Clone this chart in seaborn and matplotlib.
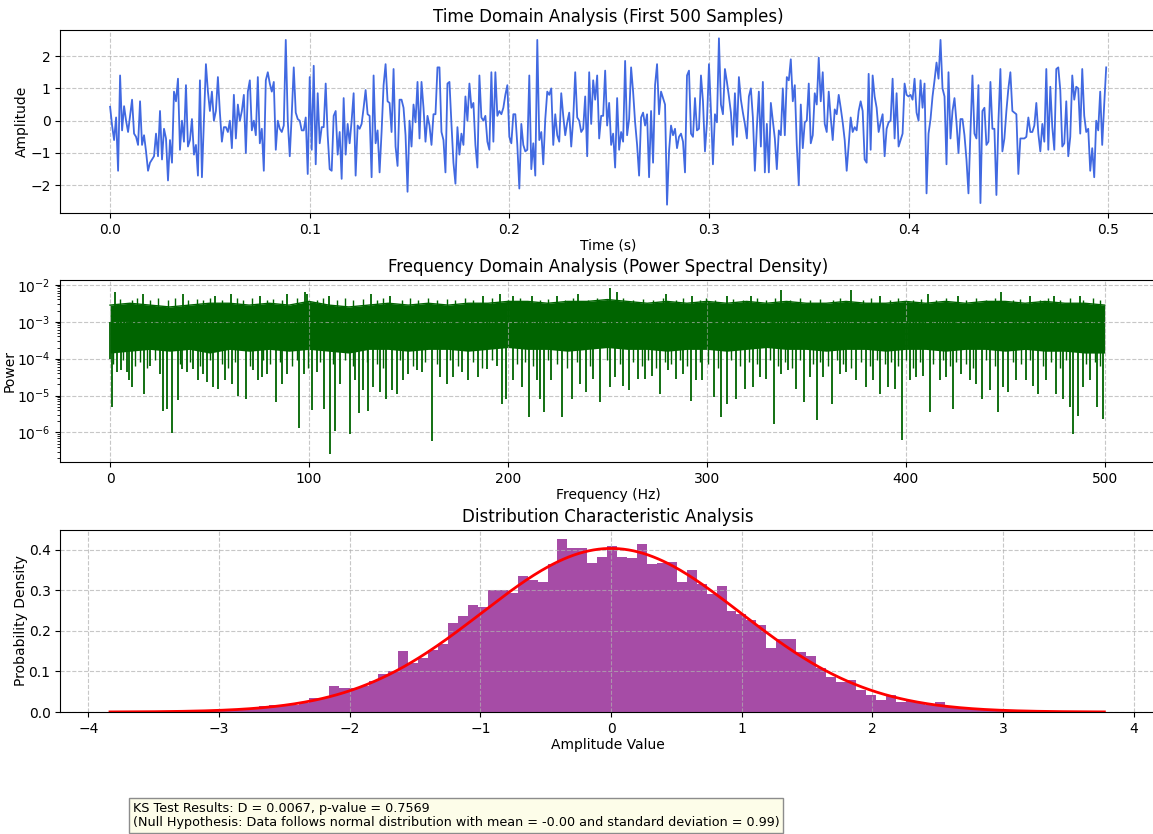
import numpy as np
import pandas as pd
import matplotlib
matplotlib.use("Agg")
import matplotlib.pyplot as plt
import seaborn as sns

# ---------------- data ----------------
fs = 1000  # sampling rate (Hz)

signal = [
    0.43, -0.15, -0.6, 0.1, -1.55, 1.4, -0.3, 0.45, 0.0, -0.35,
    0.15, 0.65, -0.4, -0.5, -0.75, 0.6, -0.75, -0.45, -0.95, -1.55,
    -1.3, -1.2, -1.1, -0.4, -1.1, 0.3, -1.2, -0.25, -0.55, -1.85,
    -0.6, -1.3, 0.9, 0.6, 1.3, -0.9, 0.0, -0.65, 1.1, -0.8,
    -0.6, 0.05, -1.05, -0.75, -1.7, 1.25, -1.75, 0.0, 1.75, 0.9,
    0.3, 0.9, 0.0, 0.3, 1.35, 0.25, -0.65, -0.2, -0.2, -0.35,
    0.0, -0.85, 0.8, -0.55, 0.5, 0.0, 0.3, 0.8, -1.0, 0.9,
    1.25, -0.3, 0.0, -0.45, 1.35, -0.7, -0.25, -1.55, 1.25, 1.5,
    1.15, 0.9, 1.2, -0.9, 0.0, -0.25, -0.35, -0.15, 2.5, 0.0,
    -1.1, 0.2, 1.65, 0.25, 0.05, 0.0, -0.3, -0.3, 0.1, -1.65, 1.35,
    -0.9, 1.7, -1.35, 0.85, -0.7, -0.2, -0.2, 1.15, -0.45, -1.5,
    -1.55, 0.15, 0.3, -1.05, -0.35, -1.8, 0.7, -1.05, -0.1, -0.7,
    0.0, 0.85, -1.7, -0.15, -0.25, -0.1, 0.4, 0.95, 0.2, 0.15,
    -1.75, 1.4, -0.7, -0.3, -1.6, -0.35, 1.1, 1.75, 0.6, 0.55,
    -0.35, 1.6, -0.8, -1.4, 0.65, 0.65, 0.4, -0.45, -2.2, 0.0,
    -0.8, 0.5, -0.05, 1.2, -0.55, 1.2, 0.4, -0.65, 0.15, -0.15,
    -0.75, 0.2, 0.2, 1.65, 1.65, -0.35, -0.6, -1.6, 1.15, 1.2,
    -0.1, -1.3, -1.95, -0.2, -1.05, -0.4, -0.75, 0.75, 0.0, 1.15,
    0.4, 0.55, -0.75, -1.45, 1.4, 0.1, 0.0, 0.15, -0.65, -0.9,
    1.5, -0.65, 1.5, 0.15, 0.3, 0.2, 0.4, 0.8, 1.1, -0.5,
    -0.7, 0.2, 0.2, -0.75, -2.1, -0.1, -0.75, -0.95, -0.9, 1.4,
    -1.5, -0.7, -1.7, 2.5, -0.6, -0.35, -1.35, 0.05, 0.9, 0.8,
    1.0, -0.75, 0.2, -0.45, -0.65, 0.85, 0.15, -0.45, -0.05, 0.25,
    -0.8, 0.05, 1.5, 0.1, 0.0, -0.35, -0.25, 0.75, -1.1, 1.5,
    -0.1, 1.25, 0.65, 1.4, -0.55, 0.15, 0.15, 1.55, -0.15, 0.55,
    -0.75, -0.4, -1.45, 0.7, -0.9, -0.35, -0.65, 1.85, -0.45, 0.05,
    1.65, 0.9, -0.05, -0.75, -1.7, 0.1, 0.25, -0.15, 0.2, -1.75,
    0.3, -1.3, 1.1, 1.75, 0.2, 0.9, 0.7, 0.5, -2.6, -0.95,
    -0.15, -0.45, -0.25, -0.85, -0.5, -0.4, -0.65, -1.6, 1.4, 1.55,
    -0.4, -0.5, 0.7, -0.3, -0.25, 1.4, 0.6, -0.95, -0.05, 1.75,
    0.3, -1.35, 0.2, -0.05, 2.55, 0.5, 0.2, 1.6, 1.2, 0.75, 0.25,
    -0.75, 0.85, -0.5, 1.35, 0.65, 0.25, -0.1, -0.55, 0.75, 1.0,
    0.1, -1.55, -0.2, 0.9, -0.8, 1.2, -1.6, -0.1, -1.6, 0.55,
    0.0, -0.55, -1.5, -0.3, -0.45, 1.0, -0.45, 1.35, 1.25, 1.9,
    0.6, 1.1, -0.75, -2.0, 0.5, -0.85, -0.05, 0.0, 1.15, -0.7,
    -0.45, 0.85, 0.5, 1.95, 0.6, 1.5, -0.1, -0.35, 0.9, 0.1,
    -0.6, 0.35, 0.2, 0.8, 0.4, -0.05, -0.6, -1.55, -0.75, 0.1,
    -0.35, -0.2, -0.3, 0.3, 0.6, 0.3, -1.2, -1.3, 1.45, -0.9,
    1.4, 0.75, 0.4, -0.35, -0.05, 0.2, -1.1, -0.25, -0.05, 0.0,
    1.3, -0.55, 0.85, -0.8, -0.6, -0.4, 1.15, 0.8, 0.75,
    0.8, 0.65, 1.3, 0.25, 0.0, 1.25, 0.4, 1.15, -2.25, -0.4,
    0.05, 0.75, 1.25, 1.8, 1.3, 2.5, 1.0, 0.75, -1.35, 1.5,
    -0.55, 0.3, 0.7, -0.05, -1.0, 0.05, 0.05, -0.45, -1.2, -2.25,
    -0.35, 1.4, -0.4, -0.55, 1.1, -2.55, 0.3, 0.4, -0.75, -0.65,
    1.2, -0.25, -0.25, -2.3, -0.05, 1.6, -0.95, -0.55, 0.3, 1.0,
    1.5, 0.3, 0.25, 0.2, -1.65, -0.55, -0.55, -0.55, -0.5, 0.1,
    -0.35, -0.35, -0.15, 0.55, -0.4, -0.95, -0.1, -0.65, 1.6, -0.9,
    1.05, -0.2, -0.9, 1.6, 1.65, 0.95, -0.8, -0.7, 0.6, -1.1,
    -0.5, 1.4, 0.65, 1.05, 1.0, -0.4, 1.6, 0.15, -0.35, -0.25,
    -1.55, -0.85, -1.75, 0.0, -0.3, 0.9, -0.75, 0.5, 1.65,
]

# Power spectral density, read as a band (log10 power) every 10 Hz
psd_env_freq = list(range(0, 501, 10))
psd_upper_log = [
    -2.55, -2.5, -2.55, -2.6, -2.55, -2.5, -2.5, -2.55, -2.5, -2.55,
    -2.45, -2.55, -2.6, -2.55, -2.5, -2.55, -2.5, -2.55, -2.5, -2.5,
    -2.45, -2.45, -2.5, -2.45, -2.45, -2.4, -2.45, -2.5, -2.45, -2.5,
    -2.45, -2.5, -2.45, -2.5, -2.45, -2.5, -2.5, -2.45, -2.5, -2.5,
    -2.45, -2.5, -2.45, -2.5, -2.45, -2.45, -2.5, -2.45, -2.5, -2.5,
    -2.55,
]
psd_lower_log = [
    -3.85, -3.8, -3.75, -3.8, -3.75, -3.85, -3.75, -3.8, -3.75, -3.8,
    -3.75, -3.8, -3.85, -3.75, -3.75, -3.8, -3.75, -3.75, -3.8, -3.75,
    -3.7, -3.75, -3.75, -3.8, -3.75, -3.7, -3.75, -3.75, -3.8, -3.75,
    -3.75, -3.8, -3.75, -3.7, -3.75, -3.75, -3.8, -3.75, -3.75, -3.8,
    -3.75, -3.75, -3.8, -3.75, -3.75, -3.8, -3.75, -3.8, -3.8, -3.85,
    -3.85,
]
# deep downward spikes of the spectrum (Hz, log10 power)
dip_freq = [
    0.0, 1.2, 3.4, 5.4, 8.4, 9.4, 11.2, 16.9, 20.1, 25.1, 26.8, 28.5, 31.0, 34.0,
    36.0, 38.5, 41.9, 44.4, 46.9, 48.9, 51.9, 54.4, 57.8, 61.1, 64.5, 68.3,
    72.0, 74.2, 76.2, 78.7, 83.2, 86.3, 88.8, 95.0, 97.5, 101.7, 103.9, 107.5,
    110.6, 113.1, 115.6, 120.6, 123.1, 125.1, 127.3, 129.8, 132.3, 135.7,
    138.7, 141.5, 144.1, 147.4, 149.9, 154.1, 156.6, 162.1, 165.8, 169.2,
    172.5, 176.7, 180.1, 184.8, 189.3, 194.3, 196.8, 199.3, 202.7, 206.9,
    210.6, 214.4, 216.1, 218.3, 221.9, 227.0, 232.0, 236.2, 239.5, 242.9,
    246.2, 251.3, 253.8, 258.0, 261.0, 265.5, 268.8, 272.2, 276.7, 280.6,
    284.4, 288.1, 292.0, 294.8, 297.8, 303.7, 306.9, 310.2, 314.9, 319.1,
    323.3, 326.6, 329.6, 333.7, 337.5, 340.9, 344.7, 348.7, 351.8, 355.4,
    358.5, 362.8, 366.8, 370.2, 375.2, 379.9, 383.6, 387.3, 391.1, 394.5,
    398.2, 402.0, 405.4, 408.7, 412.1, 417.1, 420.4, 423.8, 428.0, 432.2,
    435.5, 438.5, 442.2, 446.4, 448.9, 451.4, 455.6, 460.6, 464.0, 466.5,
    470.7, 475.7, 479.1, 482.4, 484.1, 486.6, 489.1, 492.5, 496.2, 499.2,
]
dip_log = [
    -4.0, -5.3, -4.37, -4.32, -4.37, -4.59, -4.77, -4.95, -4.19, -4.41, -5.42, -5.36, -6.01, -5.12,
    -4.28, -4.37, -4.28, -4.59, -4.41, -4.64, -4.77, -4.82, -4.59, -4.68, -5.0, -5.09,
    -4.32, -4.59, -4.5, -4.41, -5.18, -4.68, -4.41, -5.87, -4.41, -5.39, -4.37, -5.36,
    -6.58, -5.95, -4.68, -6.05, -4.59, -5.48, -4.86, -5.41, -4.77, -4.91,
    -5.09, -4.86, -4.95, -4.59, -4.41, -4.32, -4.37, -6.22, -4.5, -4.68,
    -4.5, -4.37, -4.59, -4.5, -4.28, -4.19, -5.24, -5.09, -4.59, -4.77,
    -5.59, -4.59, -5.09, -5.45, -4.59, -5.59, -5.09, -4.68, -4.91, -4.55,
    -5.18, -4.77, -4.5, -4.73, -4.86, -4.55, -4.55, -4.46, -4.95, -4.32,
    -4.55, -4.41, -5.14, -4.59, -4.59, -5.03, -5.57, -5.24, -5.09, -4.82,
    -4.77, -4.5, -4.55, -5.78, -4.41, -4.32, -4.82, -5.18, -4.5, -5.66,
    -4.5, -5.23, -4.41, -4.37, -4.59, -4.77, -4.59, -4.95, -4.77, -4.82,
    -6.2, -4.59, -4.5, -4.46, -5.45, -4.59, -4.5, -5.36, -4.41, -4.59,
    -4.68, -5.09, -4.86, -5.45, -4.77, -4.91, -4.59, -4.59, -4.73, -4.95,
    -4.59, -4.95, -5.09, -5.32, -6.05, -5.55, -4.77, -4.59, -5.32, -5.63,
]
# shallow downward spikes just below the dense band (Hz, log10 power)
small_dip_freq = [
    1.7, 6.7, 12.6, 15.1, 18.4, 22.6, 35.2, 40.2, 45.2, 50.3, 56.1, 59.5, 62.8,
    70.4, 77.1, 80.4, 85.4, 91.3, 93.8, 99.7, 105.5, 112.2, 118.1, 122.3, 129.0,
    134.0, 137.4, 145.7, 152.4, 158.3, 164.2, 170.9, 175.0, 182.6, 186.8, 191.8,
    204.4, 208.5, 212.7, 220.3, 224.5, 229.5, 234.5, 241.2, 249.6, 256.3, 263.0,
    267.2, 270.5, 274.7, 278.9, 282.2, 286.4, 289.8, 296.5, 300.7, 305.7, 312.4,
    316.6, 321.1, 325.0, 331.7, 335.8, 339.2, 343.0, 346.7, 353.4, 356.8, 361.0,
    365.2, 368.5, 372.7, 377.7, 381.9, 385.3, 389.4, 392.8, 396.1, 400.3, 403.7,
    407.0, 413.7, 418.8, 422.1, 425.5, 430.5, 433.8, 440.5, 444.7, 453.9, 458.1,
    462.3, 469.0, 473.2, 477.4, 480.7, 490.8, 495.0, 497.5,
]
small_dip_log = [
    -4.15, -4.05, -4.2, -4.1, -4.25, -4.05, -4.15, -4.1, -4.2, -4.05, -4.15, -4.25, -4.1,
    -4.2, -4.05, -4.15, -4.1, -4.2, -4.05, -4.25, -4.1, -4.15, -4.05, -4.2, -4.1,
    -4.15, -4.25, -4.05, -4.2, -4.1, -4.15, -4.05, -4.2, -4.1, -4.25, -4.05,
    -4.15, -4.1, -4.2, -4.05, -4.15, -4.25, -4.1, -4.2, -4.05, -4.15, -4.1,
    -4.2, -4.05, -4.25, -4.1, -4.15, -4.05, -4.2, -4.1, -4.15, -4.25, -4.05,
    -4.2, -4.1, -4.15, -4.05, -4.2, -4.1, -4.25, -4.05, -4.15, -4.1, -4.2,
    -4.05, -4.15, -4.25, -4.1, -4.2, -4.05, -4.15, -4.1, -4.2, -4.05, -4.25,
    -4.1, -4.15, -4.05, -4.2, -4.1, -4.15, -4.25, -4.05, -4.2, -4.1, -4.15,
    -4.05, -4.2, -4.1, -4.25, -4.05, -4.15, -4.1, -4.2,
]
# tall upward spikes of the spectrum (Hz, log10 power)
peak_freq = [
    2.5, 16.4, 36.9, 52.8, 60.6, 75.4, 88.8, 98.0, 99.2, 110.0, 131.0, 140.7,
    187.6, 196.0, 202.7, 211.9, 224.5, 235.3, 251.5, 254.6, 279.7, 292.3,
    309.9, 322.4, 337.5, 372.7, 386.9, 411.2, 426.3, 448.0, 462.6, 474.4, 487.8,
]
peak_log = [
    -2.2, -2.25, -2.25, -2.3, -2.25, -2.3, -2.25, -2.2, -2.25, -2.3, -2.25, -2.3,
    -2.3, -2.25, -2.3, -2.3, -2.3, -2.25, -2.1, -2.2, -2.25, -2.3,
    -2.3, -2.3, -2.15, -2.15, -2.3, -2.25, -2.3, -2.2, -2.3, -2.3, -2.3,
]
# small upward spikes forming the ragged top of the band (Hz, log10 power)
comb_freq = [
    5.0, 10.9, 13.4, 20.1, 24.3, 29.3, 32.7, 39.4, 43.6, 46.9, 50.3, 56.1, 63.7,
    67.0, 71.2, 78.7, 82.1, 86.3, 93.8, 103.9, 107.2, 113.9, 118.1, 122.3, 127.3,
    134.0, 137.4, 146.6, 150.8, 155.0, 160.0, 164.2, 169.2, 173.4, 178.4, 182.6,
    191.8, 200.2, 206.0, 216.1, 220.3, 228.6, 232.8, 240.4, 244.6, 249.6, 258.0,
    263.0, 268.0, 273.0, 278.1, 284.4, 287.8, 296.5, 299.8, 304.0, 313.2, 318.3,
    325.0, 330.0, 334.2, 341.7, 346.7, 351.8, 356.8, 363.5, 366.8, 378.6, 382.7,
    391.9, 396.1, 403.7, 407.9, 415.4, 420.4, 430.5, 435.5, 440.5, 444.7, 453.9,
    457.3, 467.3, 471.5, 477.4, 482.4, 489.1, 494.1, 497.5,
]
comb_log = [
    -2.38, -2.42, -2.35, -2.4, -2.37, -2.42, -2.36, -2.4, -2.38, -2.42, -2.35, -2.4, -2.37,
    -2.42, -2.36, -2.4, -2.38, -2.42, -2.35, -2.4, -2.37, -2.42, -2.36, -2.4, -2.38,
    -2.42, -2.35, -2.4, -2.37, -2.42, -2.36, -2.4, -2.38, -2.42, -2.35, -2.4,
    -2.37, -2.42, -2.36, -2.4, -2.38, -2.42, -2.35, -2.4, -2.37, -2.42, -2.36,
    -2.4, -2.38, -2.42, -2.35, -2.4, -2.37, -2.42, -2.36, -2.4, -2.38, -2.42,
    -2.35, -2.4, -2.37, -2.42, -2.36, -2.4, -2.38, -2.42, -2.35, -2.4, -2.37,
    -2.42, -2.36, -2.4, -2.38, -2.42, -2.35, -2.4, -2.37, -2.42, -2.36, -2.4,
    -2.38, -2.42, -2.35, -2.4, -2.37, -2.42, -2.36, -2.4,
]

# Histogram: 100 bins spanning the data range, density heights
hist_lo, hist_hi, hist_nbins = -3.835, 3.775, 100
hist_density = [
    0.0, 0.001, 0.0, 0.001, 0.0, 0.001, 0.001, 0.002, 0.002, 0.006,
    0.004, 0.003, 0.006, 0.008, 0.01, 0.014, 0.017, 0.015, 0.018, 0.021,
    0.035, 0.035, 0.063, 0.059, 0.059, 0.063, 0.076, 0.093, 0.1, 0.151,
    0.12, 0.134, 0.153, 0.167, 0.22, 0.237, 0.264, 0.259, 0.3, 0.3,
    0.294, 0.336, 0.324, 0.321, 0.364, 0.427, 0.404, 0.404, 0.367, 0.382,
    0.409, 0.382, 0.38, 0.415, 0.364, 0.367, 0.37, 0.32, 0.35, 0.315,
    0.291, 0.31, 0.248, 0.242, 0.226, 0.215, 0.157, 0.179, 0.18, 0.149,
    0.139, 0.108, 0.086, 0.073, 0.08, 0.055, 0.041, 0.029, 0.041, 0.024,
    0.027, 0.021, 0.017, 0.025, 0.015, 0.011, 0.009, 0.007, 0.004, 0.002,
    0.003, 0.001, 0.002, 0.001, 0.0, 0.001, 0.0, 0.0, 0.001, 0.0,
]
fit_mean = -0.00
fit_std = 0.99
ks_D = 0.0067
ks_p = 0.7569

# ---------------- figure ----------------
W, H = 1153, 834
fig = plt.figure(figsize=(W / 100, H / 100), dpi=100)


def add_ax(left, top, right, bottom):
    return fig.add_axes([left / W, 1 - bottom / H, (right - left) / W, (bottom - top) / H])


AX_L, AX_R = 60.3, 1156
ax1 = add_ax(AX_L, 30, AX_R, 213)
ax2 = add_ax(AX_L, 280, AX_R, 462)
ax3 = add_ax(AX_L, 530, AX_R, 712)

grid_kw = dict(linestyle="--", alpha=0.7)
xlab_kw = dict(labelpad=1.5)
ylab_kw = dict(labelpad=0.5)

# --- time domain
t = np.arange(len(signal)) / fs
sns.lineplot(x=t, y=signal, ax=ax1, color="royalblue", linewidth=1.3)
ax1.set_xlim(-0.02495, 0.52395)
ax1.set_title("Time Domain Analysis (First 500 Samples)", fontsize=12)
ax1.set_xlabel("Time (s)", **xlab_kw)
ax1.set_ylabel("Amplitude", **ylab_kw)
ax1.grid(True, **grid_kw)

# --- frequency domain
green = "darkgreen"
ax2.set_yscale("log")
up = 10 ** np.array(psd_upper_log)
lo = 10 ** np.array(psd_lower_log)
ax2.fill_between(psd_env_freq, lo, up, color=green, linewidth=0)
sns.lineplot(x=psd_env_freq, y=up, ax=ax2, color=green, linewidth=1.0)
ax2.vlines(small_dip_freq, 1e-3, 10 ** np.array(small_dip_log), color=green, linewidth=1.0)
ax2.vlines(comb_freq, 1e-3, 10 ** np.array(comb_log), color=green, linewidth=1.0)
ax2.vlines(dip_freq, 1e-3, 10 ** np.array(dip_log), color=green, linewidth=1.3)
ax2.vlines(peak_freq, 1e-3, 10 ** np.array(peak_log), color=green, linewidth=1.3)
ax2.set_ylim(10 ** -6.8, 10 ** -1.87)
ax2.set_xlim(-25, 525.8)
ax2.set_title("Frequency Domain Analysis (Power Spectral Density)", fontsize=12)
ax2.set_xlabel("Frequency (Hz)", **xlab_kw)
ax2.set_ylabel("Power", **ylab_kw)
ax2.grid(True, **grid_kw)

# --- distribution
edges = np.linspace(hist_lo, hist_hi, hist_nbins + 1)
hist_df = pd.DataFrame({"value": (edges[:-1] + edges[1:]) / 2, "density": hist_density})
sns.histplot(data=hist_df, x="value", weights="density", bins=hist_nbins,
             binrange=(hist_lo, hist_hi), ax=ax3,
             color="purple", alpha=0.7, linewidth=0, stat="count")
xs = np.linspace(hist_lo, hist_hi, 400)
pdf = np.exp(-0.5 * ((xs - fit_mean) / fit_std) ** 2) / (fit_std * np.sqrt(2 * np.pi))
sns.lineplot(x=xs, y=pdf, ax=ax3, color="red", linewidth=2)
ax3.set_xlim(-4.2155, 4.17)
ax3.set_title("Distribution Characteristic Analysis", fontsize=12)
ax3.set_xlabel("Amplitude Value", **xlab_kw)
ax3.set_ylabel("Probability Density", **ylab_kw)
ax3.grid(True, **grid_kw)

txt = (f"KS Test Results: D = {ks_D:.4f}, p-value = {ks_p:.4f}\n"
       f"(Null Hypothesis: Data follows normal distribution with mean = -{abs(fit_mean):.2f} "
       f"and standard deviation = {fit_std:.2f})")
fig.text(133 / W, 1 - 802 / H, txt, fontsize=9.2, va="top", ha="left",
         linespacing=1.1,
         bbox=dict(boxstyle="square,pad=0.3", facecolor="#fdfde9", edgecolor="#8c8c8c"))

fig.savefig("out.png", dpi=100)
